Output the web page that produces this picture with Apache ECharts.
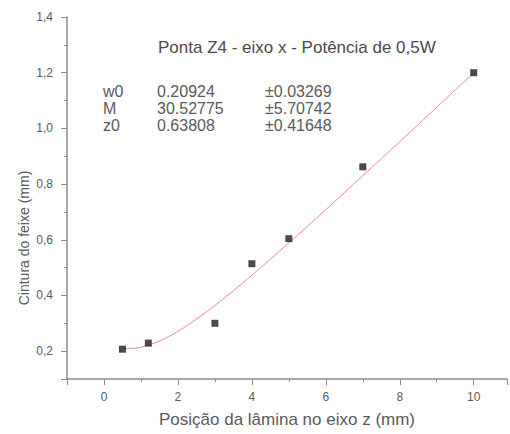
<!DOCTYPE html>
<html>
<head>
<meta charset="utf-8">
<script src="https://cdn.jsdelivr.net/npm/echarts@6/dist/echarts.min.js"></script>
<style>
  html, body { margin: 0; padding: 0; background: #fff; }
  #chart { width: 510px; height: 434px; }
</style>
</head>
<body>
<div id="chart"></div>
<script>
// pontos medidos
var posZ = [0.5, 1.2, 3, 4, 5, 7, 10]
var cintura = [0.207, 0.229, 0.30, 0.514, 0.604, 0.862, 1.20]

// curva do ajuste
var fitZ = [0.5, 0.75, 1, 1.5, 2, 2.5, 3, 3.5, 4, 4.5, 5, 5.5, 6, 6.5, 7, 7.5, 8, 8.5, 9, 9.5, 10]
var fitW = [0.210, 0.210, 0.214, 0.236, 0.271, 0.315, 0.364, 0.417, 0.473, 0.530, 0.589, 0.648,
  0.708, 0.769, 0.830, 0.891, 0.952, 1.014, 1.076, 1.138, 1.200]

// parametros do ajuste
var paramNames = ['w0', 'M', 'z0']
var paramValues = ['0.20924', '30.52775', '0.63808']
var paramErrors = ['±0.03269', '±5.70742', '±0.41648']

var titulo = 'Ponta Z4 - eixo x - Potência de 0,5W'
var nomeX = 'Posição da lâmina no eixo z (mm)'
var nomeY = 'Cintura do feixe (mm)'

var font = "'Liberation Sans', Arial, sans-serif"
var axisColor = '#8c8c8c'
var textColor = '#5a5a5a'

var chart = echarts.init(document.getElementById('chart'), null, { renderer: 'svg' })

function toPairs(xs, ys) {
  return xs.map(function (x, i) { return [x, ys[i]] })
}

// textos da tabela de parametros
var tabela = []
var colX = [103, 157, 265]
var rowY = [91, 108, 125]
paramNames.forEach(function (n, i) {
  var cols = [n, paramValues[i], paramErrors[i]]
  cols.forEach(function (t, j) {
    tabela.push({
      type: 'text',
      x: colX[j],
      y: rowY[i],
      style: { text: t, fill: textColor, font: '16px ' + font, textVerticalAlign: 'middle' }
    })
  })
})

chart.setOption({
  animation: false,
  textStyle: { fontFamily: font },
  grid: { left: 67, right: 3, top: 17, bottom: 55, containLabel: false },
  xAxis: [{
    type: 'value',
    min: -1,
    max: 10.9,
    interval: 1,
    position: 'bottom',
    axisLine: { onZero: false, lineStyle: { color: axisColor, width: 1.5 } },
    axisTick: { length: 3, lineStyle: { color: axisColor } },
    axisLabel: {
      margin: 12,
      color: textColor,
      fontSize: 12,
      showMaxLabel: false,
      formatter: function (v) {
        return (v % 2 === 0 && v >= 0 && v <= 10) ? String(v) : ''
      },
    },
    splitLine: { show: false },
    name: nomeX,
    nameLocation: 'middle',
    nameGap: 32,
    nameTextStyle: { color: textColor, fontSize: 17 },
  }, {
    // ticks maiores
    type: 'value',
    min: -1,
    max: 10.9,
    splitNumber: 7,
    position: 'bottom',
    axisLine: { show: false },
    axisTick: { length: 6, lineStyle: { color: axisColor } },
    axisLabel: { show: false },
    splitLine: { show: false },
  }],
  yAxis: [{
    type: 'value',
    min: 0.1,
    max: 1.4,
    interval: 0.1,
    position: 'left',
    axisLine: { show: true, onZero: false, lineStyle: { color: axisColor, width: 1.5 } },
    axisTick: { show: true, length: 3, lineStyle: { color: axisColor } },
    axisLabel: {
      margin: 14,
      color: textColor,
      fontSize: 12,
      formatter: function (v) {
        var t = Math.round(v * 10)
        return (t % 2 === 0 && t >= 2) ? (t / 10).toFixed(1).replace('.', ',') : ''
      },
    },
    splitLine: { show: false },
  }, {
    type: 'value',
    min: 0.1,
    max: 1.4,
    splitNumber: 7,
    position: 'left',
    axisLine: { show: false, onZero: false },
    axisTick: { show: true, length: 6, lineStyle: { color: axisColor } },
    axisLabel: { show: false },
    splitLine: { show: false },
  }],
  graphic: [{
    type: 'text',
    x: 158,
    y: 47,
    style: { text: titulo, fill: '#4a4a4a', font: '17px ' + font, textVerticalAlign: 'middle' }
  }, {
    type: 'text',
    x: 24,
    y: 238,
    rotation: Math.PI / 2,
    style: {
      text: nomeY, fill: textColor, font: '14px ' + font,
      textAlign: 'center', textVerticalAlign: 'middle'
    }
  }].concat(tabela),
  series: [{
    name: 'ajuste',
    type: 'line',
    data: toPairs(fitZ, fitW),
    showSymbol: false,
    smooth: 0.3,
    lineStyle: { color: '#f08a8a', width: 1 },
    z: 2,
  }, {
    name: 'dados',
    type: 'scatter',
    data: toPairs(posZ, cintura),
    symbol: 'rect',
    symbolSize: 7,
    itemStyle: { color: '#1e1e1e' },
    z: 3,
  }],
})
</script>
</body>
</html>
